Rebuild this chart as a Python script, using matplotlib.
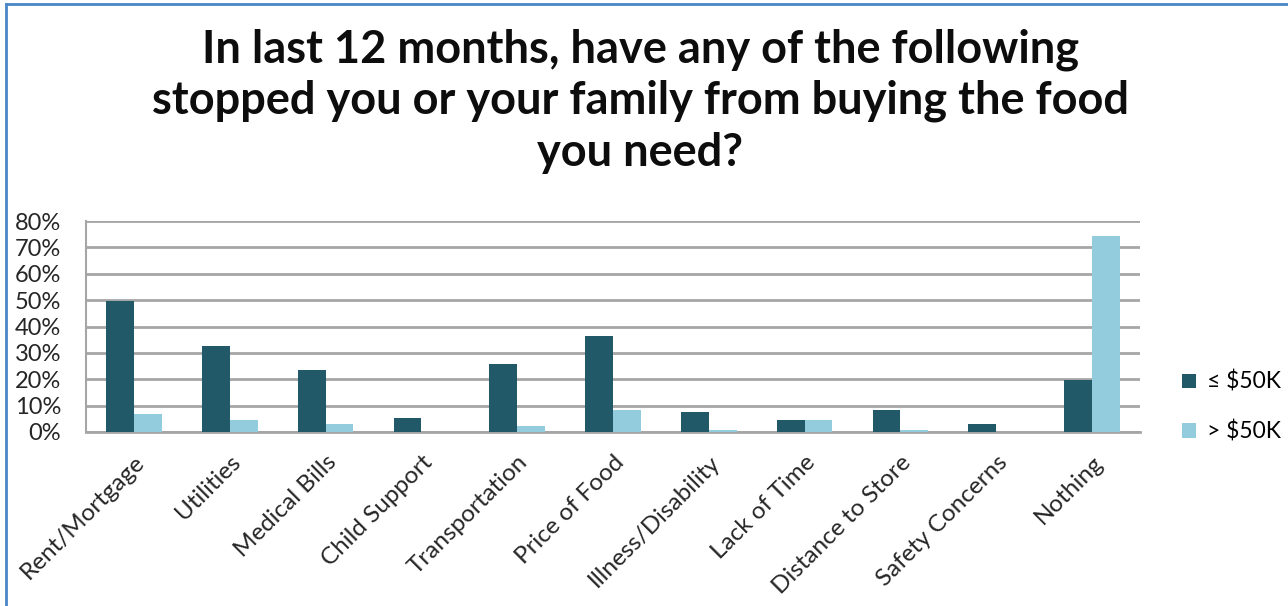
import matplotlib
matplotlib.use("Agg")
import matplotlib.pyplot as plt
import numpy as np
from matplotlib.lines import Line2D
from matplotlib.ticker import PercentFormatter

categories = ["Rent/Mortgage", "Utilities", "Medical Bills", "Child Support",
              "Transportation", "Price of Food", "Illness/Disability",
              "Lack of Time", "Distance to Store", "Safety Concerns", "Nothing"]
low_income = [49.5, 32.7, 23.5, 5.3, 25.8, 36.4, 7.6, 4.5, 8.3, 3.0, 19.8]
high_income = [6.8, 4.5, 3.0, 0.0, 2.3, 8.4, 0.8, 4.5, 0.8, 0.0, 74.3]
series_labels = ["\u2264 $50K", "> $50K"]

dark = "#215968"
light = "#93CDDD"

plt.rcParams['font.family'] = ['Lato', 'DejaVu Sans']

fig = plt.figure(figsize=(12.88, 6.06), dpi=100)
ax = fig.add_axes([86/1288, 1-432/606, (1140-86)/1288, (432-221)/606])

x = np.arange(len(categories))
w = 0.29
ax.bar(x - w/2, low_income, w, color=dark, label=series_labels[0], zorder=3)
ax.bar(x + w/2, high_income, w, color=light, label=series_labels[1], zorder=3)

ax.set_xlim(-0.5, len(categories) - 0.5)
ax.set_ylim(0, 80)
ax.set_yticks(np.arange(0, 81, 10))
ax.yaxis.set_major_formatter(PercentFormatter(decimals=0))
ax.grid(axis='y', color='#a6a6a6', linewidth=2, zorder=0)
for s in ['top', 'right']:
    ax.spines[s].set_visible(False)
ax.spines['left'].set_color('#a6a6a6')
ax.spines['left'].set_linewidth(1.5)
ax.spines['bottom'].set_color('#a6a6a6')
ax.spines['bottom'].set_linewidth(2)
ax.tick_params(axis='y', length=0, labelsize=17, pad=18, colors='#262626')
ax.tick_params(axis='x', length=0, labelsize=17.5, pad=14, colors='#262626')
ax.set_xticks(x)
ax.set_xticklabels(categories, rotation=45, ha='right', rotation_mode='anchor')

ax.legend(loc='center left', bbox_to_anchor=(1.04, 0.12), frameon=False,
          fontsize=16.5, handlelength=0.6, handleheight=0.6, labelspacing=1.2,
          handletextpad=0.5, borderaxespad=0, borderpad=0)

fig.text(0.497, 1-101/606, "In last 12 months, have any of the following\n"
         "stopped you or your family from buying the food\nyou need?",
         ha='center', va='center', fontsize=32.5, fontweight='bold',
         linespacing=1.27, color='#0d0d0d')

# chart border (left and top edges visible)
fig.add_artist(Line2D([6/1288, 6/1288], [0, 1-4/606], color='#4a86c8', linewidth=2,
                      transform=fig.transFigure))
fig.add_artist(Line2D([6/1288, 1], [1-4/606, 1-4/606], color='#4a86c8', linewidth=2,
                      transform=fig.transFigure))

fig.savefig('out.png', dpi=100)
